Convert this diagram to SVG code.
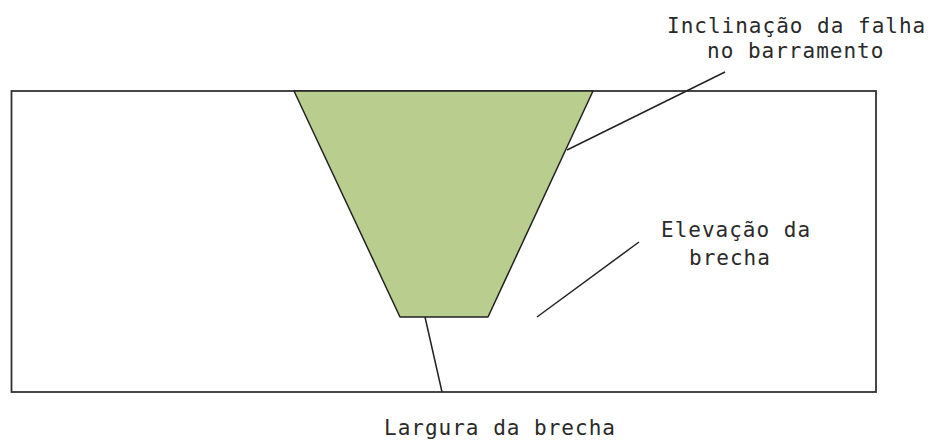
<svg xmlns="http://www.w3.org/2000/svg" width="936" height="443" viewBox="0 0 936 443">
<style>
.lbl{font-family:"DejaVu Sans Mono","Liberation Mono",monospace;font-size:21px;letter-spacing:1px;fill:#2a2a2a}
.ln{stroke:#222;stroke-width:1.5;fill:none}
</style>
<rect width="936" height="443" fill="#fff"/>
<g id="frame"><rect x="11.5" y="91" width="864.5" height="301" fill="#fff" stroke="#333" stroke-width="1.8"/></g>
<g id="breach"><polygon points="294,91 593,91 488,317 400,317" fill="#b9cd8f" stroke="#222" stroke-width="1.5" stroke-linejoin="round"/></g>
<g id="connectors">
<line class="ln" x1="567" y1="150" x2="725" y2="72"/>
<line class="ln" x1="537" y1="317" x2="639" y2="242"/>
<line class="ln" x1="425" y1="317" x2="442" y2="392"/>
</g>
<g id="label-inclinacao">
<text class="lbl" x="667" y="33">Inclinação da falha</text>
<text class="lbl" x="707" y="58">no barramento</text>
</g>
<g id="label-elevacao">
<text class="lbl" x="661" y="237">Elevação da</text>
<text class="lbl" x="689" y="265">brecha</text>
</g>
<g id="label-largura">
<text class="lbl" x="384" y="435">Largura da brecha</text>
</g>
</svg>
